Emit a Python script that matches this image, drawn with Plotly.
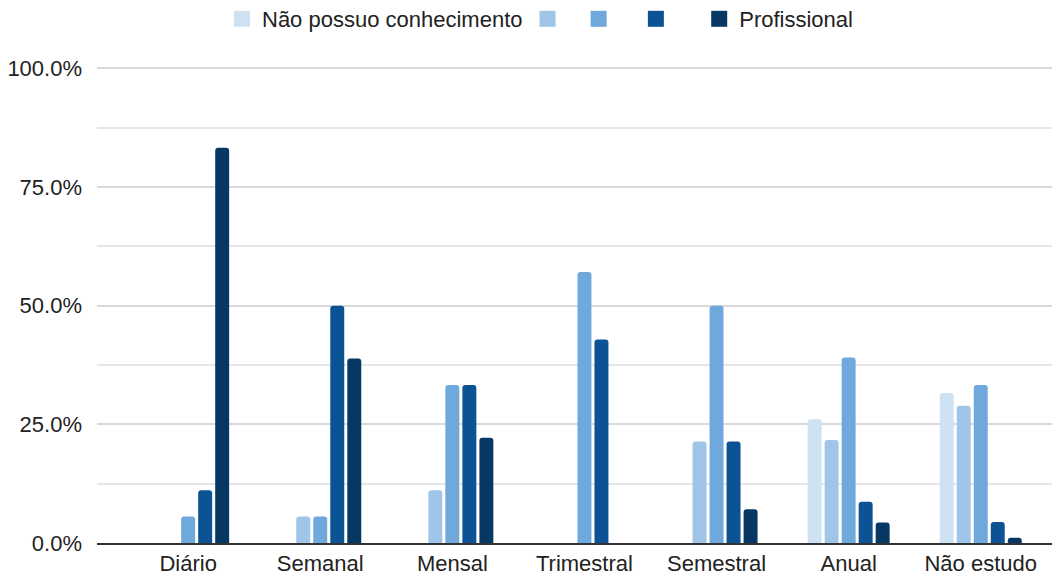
import plotly.graph_objects as go

# ── Data ─────────────────────────────────────────────────────────────────────
categories = ['Diário', 'Semanal', 'Mensal', 'Trimestral', 'Semestral', 'Anual', 'Não estudo']

series_names = ['Não possuo conhecimento', ' ', '  ', '   ', 'Profissional']

nivel_1 = [0.0, 0.0, 0.0, 0.0, 0.0, 0.261, 0.316]
nivel_2 = [0.0, 0.056, 0.111, 0.0, 0.214, 0.217, 0.289]
nivel_3 = [0.056, 0.056, 0.333, 0.571, 0.50, 0.391, 0.333]
nivel_4 = [0.111, 0.50, 0.333, 0.429, 0.214, 0.087, 0.044]
nivel_5 = [0.833, 0.389, 0.222, 0.0, 0.071, 0.043, 0.011]

# ── Style ────────────────────────────────────────────────────────────────────
_COLORS = ['#cfe2f3', '#9fc5e8', '#6fa8dc', '#0b5394', '#073763']
_FONT = 'Liberation Sans, Arial, sans-serif'
_TEXT = '#222222'
_GRID = '#d9d9d9'

# page body has an 8px margin, so the figure is sized to fill the rest
_W, _H = 1052, 569

fig = go.Figure()

for name, values, color in zip(series_names,
                                [nivel_1, nivel_2, nivel_3, nivel_4, nivel_5],
                                _COLORS):
    fig.add_trace(go.Bar(
        x=categories, y=values,
        name=name, showlegend=False,
        marker=dict(color=color, line_width=0),
    ))
    # legend-only entry with a bigger square swatch
    fig.add_trace(go.Scatter(
        x=[None], y=[None],
        mode='markers', name=name,
        marker=dict(symbol='square', size=16, color=color),
    ))

fig.update_layout(
    width=_W, height=_H,
    margin=dict(l=89, r=0, t=59, b=34, autoexpand=False),
    paper_bgcolor='white',
    plot_bgcolor='white',
    font=dict(family=_FONT, size=22, color=_TEXT),
    barmode='group',
    bargap=0.356,
    bargroupgap=0.18,
    barcornerradius=3,
    legend=dict(
        orientation='h',
        xref='container', x=532 / _W, xanchor='center',
        yref='container', y=1 - 11 / _H, yanchor='middle',
        font=dict(size=22),
        bgcolor='rgba(0,0,0,0)',
        itemwidth=30,
        itemsizing='trace',
    ),
)

fig.update_xaxes(
    range=[-0.69, 6.6],
    showgrid=False,
    showline=True, linecolor='#333333', linewidth=1.5,
    ticks='',
    automargin=False,
    tickfont=dict(size=22, color=_TEXT),
)

fig.update_yaxes(
    range=[0, 1.003],
    dtick=0.25,
    tickformat='.1%',
    showgrid=True, gridcolor=_GRID, gridwidth=1.5,
    minor=dict(dtick=0.125, showgrid=True, gridcolor='#e6e6e6', gridwidth=1.5),
    zeroline=False,
    automargin=False,
    ticklabelstandoff=14,
    tickfont=dict(size=22, color=_TEXT),
)

fig.write_html('out.html')
